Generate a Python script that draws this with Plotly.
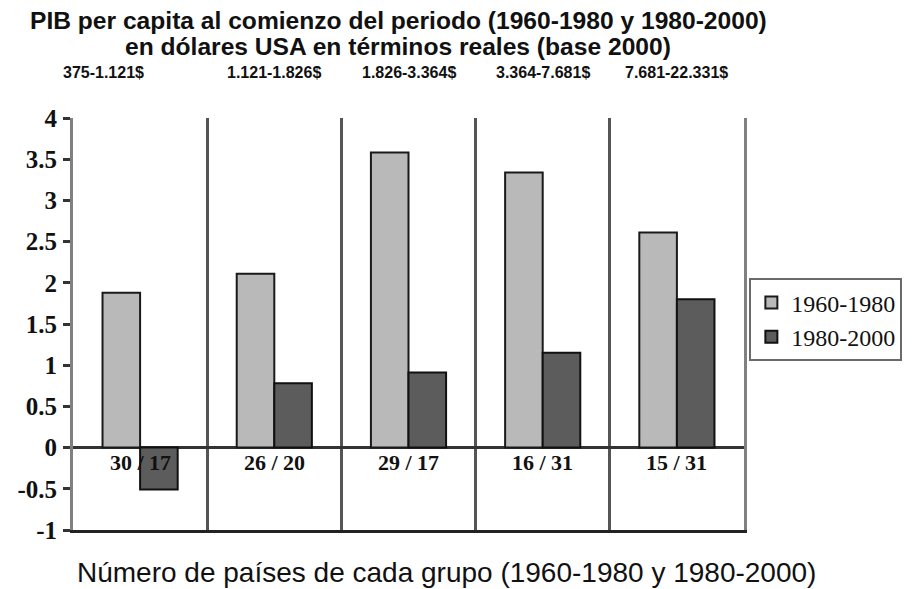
import plotly.graph_objects as go

# grupos de renta inicial
grupos = ["375-1.121$", "1.121-1.826$", "1.826-3.364$", "3.364-7.681$", "7.681-22.331$"]
paises = ["30 / 17", "26 / 20", "29 / 17", "16 / 31", "15 / 31"]

crec_1960_1980 = [1.88, 2.11, 3.58, 3.34, 2.61]
crec_1980_2000 = [-0.51, 0.78, 0.91, 1.15, 1.80]

y_ticks = [-1, -0.5, 0, 0.5, 1, 1.5, 2, 2.5, 3, 3.5, 4]
y_ticklabels = ["-1", "-0.5", "0", "0.5", "1", "1.5", "2", "2.5", "3", "3.5", "4"]

x = list(range(len(grupos)))

fig = go.Figure()
fig.add_trace(go.Bar(
    x=x, y=crec_1960_1980, name="1960-1980",
    marker=dict(color="#b9b9b9", line=dict(color="#1a1a1a", width=2)),
))
fig.add_trace(go.Bar(
    x=x, y=crec_1980_2000, name="1980-2000",
    marker=dict(color="#5c5c5c", line=dict(color="#111111", width=2)),
))

# etiquetas con el numero de paises, debajo del cero
for i, txt in enumerate(paises):
    fig.add_annotation(x=i, y=-0.18, text="<b>" + txt + "</b>", showarrow=False,
                       font=dict(family="Liberation Serif", size=22, color="#111111"))

# rangos de renta encima del grafico
for i, txt in enumerate(grupos):
    fig.add_annotation(x=i, y=1.0, yref="paper", yanchor="middle", yshift=46,
                       text="<b>" + txt + "</b>",
                       xshift=-37 if i == 0 else 0, showarrow=False,
                       font=dict(family="Liberation Sans", size=16, color="#111111"))

# titulo en dos lineas
titulo = ["PIB per capita al comienzo del periodo (1960-1980 y 1980-2000)",
          "en dólares USA en términos reales (base 2000)"]
for txt, dy in zip(titulo, [98, 72]):
    fig.add_annotation(x=0.485, xref="paper", xanchor="center", y=1.0, yref="paper",
                       yanchor="middle", yshift=dy, text="<b>" + txt + "</b>",
                       showarrow=False,
                       font=dict(family="Liberation Sans", size=24.6, color="#111111"))

# titulo del eje x
fig.add_annotation(x=0.557, xref="paper", xanchor="center", y=0, yref="paper",
                   yanchor="middle", yshift=-42,
                   text="Número de países de cada grupo (1960-1980 y 1980-2000)",
                   showarrow=False,
                   font=dict(family="Liberation Sans", size=28, color="#111111"))

# la pagina deja 8px de margen arriba y a la izquierda
fig.update_layout(
    width=906, height=581,
    margin=dict(l=65, r=160, t=110, b=59),
    paper_bgcolor="white", plot_bgcolor="white",
    barmode="group", bargap=0.44, bargroupgap=0,
    legend=dict(
        x=1.008, xanchor="left", y=0.51, yanchor="middle",
        bordercolor="#6a6a6a", borderwidth=2, itemwidth=30,
        font=dict(family="Liberation Serif", size=24, color="#111111"),
    ),
    showlegend=True,
)

fig.update_xaxes(
    range=[-0.5, 4.5], automargin=False,
    tickvals=[0.5, 1.5, 2.5, 3.5], ticktext=["", "", "", ""],
    showgrid=True, gridcolor="#555555", gridwidth=2.5,
    showline=True, linecolor="#222222", linewidth=3,
    ticks="",
)
fig.update_yaxes(
    range=[-1, 4], automargin=False,
    tickvals=y_ticks, ticktext=y_ticklabels,
    showgrid=False,
    showline=True, linecolor="#808080", linewidth=3, mirror=True,
    ticks="outside", ticklen=7, tickwidth=2.5, tickcolor="#333333",
    ticklabelstandoff=1,
    zeroline=True, zerolinecolor="#333333", zerolinewidth=3,
    tickfont=dict(family="Liberation Serif", size=25, color="#111111", weight="bold"),
)

fig.write_html("out.html")
